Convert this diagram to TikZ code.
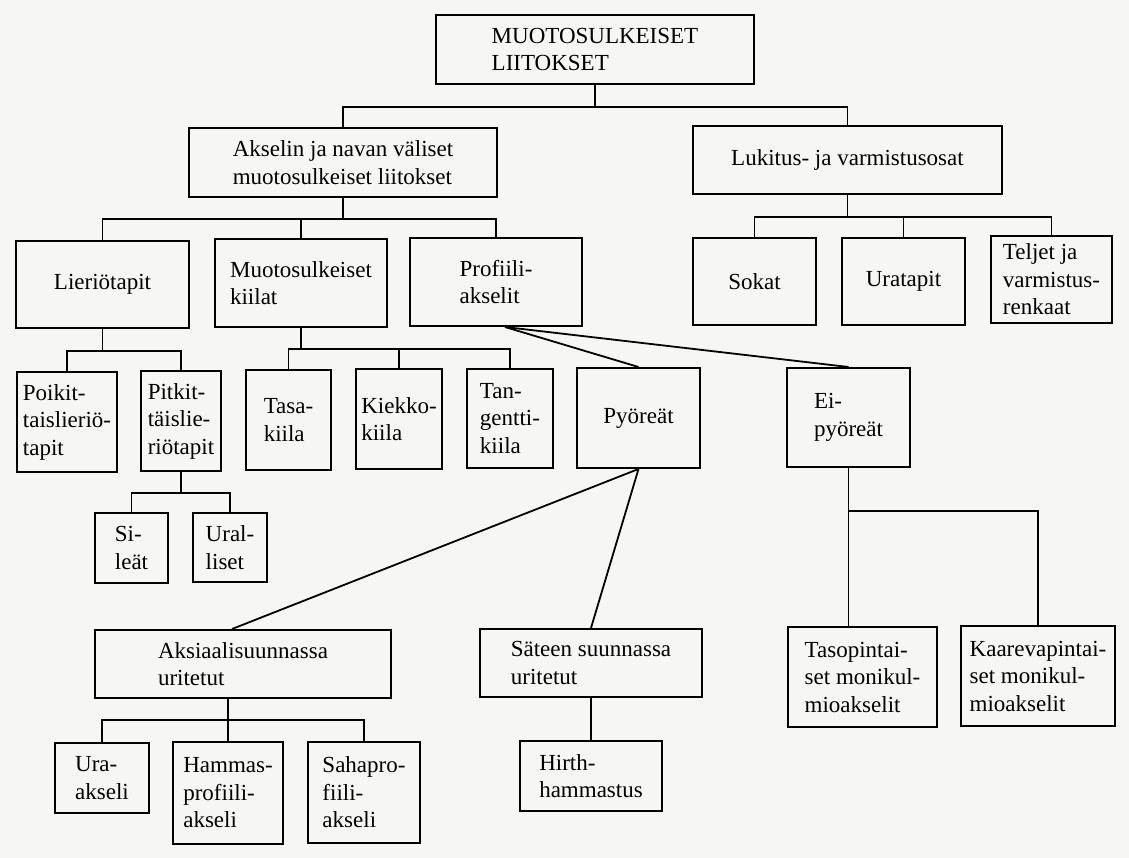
\documentclass[tikz,border=0pt]{standalone}
\usepackage{fontspec}
\setmainfont{Liberation Serif}
\usetikzlibrary{positioning, calc, backgrounds}
\tikzset{
  % Boxes of the tree
  box/.style={
    draw, rectangle, line width=2pt, align=left,
    font=\fontsize{23}{27.5}\selectfont,
    inner sep=0pt
  },
  boxsize/.style 2 args={
    minimum width=#1pt, minimum height=#2pt
  },
  % Tree lines
  link/.style={
    -, line width=1.8pt
  },
  paper/.style={
    fill={rgb,255:red,246;green,246;blue,245}
  },
}

\begin{document}
\begin{tikzpicture}[x=1pt, y=-1pt]

  \fill[paper] (0,0) rectangle (1129,858);
  \useasboundingbox (0,0) rectangle (1129,858);

  %% ── Level 0 / 1 ──
  \node[box, boxsize={318}{69}] (root) at (595,49.5) {MUOTOSULKEISET\\LIITOKSET};
  \node[box, boxsize={308}{69}] (akselin) at (343,162.5) {Akselin ja navan väliset\\muotosulkeiset liitokset};
  \node[box, boxsize={309}{68}] (lukitus) at (847.5,160) {Lukitus- ja varmistusosat};

  %% ── Level 2 ──
  \node[box, boxsize={173}{87}] (lierio)   at (102.5,284.5) {Lieriötapit};
  \node[box, boxsize={172}{88}] (kiilat)   at (301,283)     {Muotosulkeiset\\kiilat};
  \node[box, boxsize={172}{88}] (profiili) at (496,282)     {Profiili-\\akselit};
  \node[box, boxsize={123}{87}] (sokat)    at (754.5,281.5) {Sokat};
  \node[box, boxsize={123}{87}] (uratapit) at (903.5,281.5) {Uratapit};
  \node[box, boxsize={121}{87}] (teljet)   at (1051.5,279.5) {Teljet ja\\varmistus-\\renkaat};

  %% ── Level 3 ──
  \node[box, boxsize={100}{100}] (poikit)    at (67,422)    {Poikit-\\taislieriö-\\tapit};
  \node[box, boxsize={80}{100}]  (pitkit)    at (181,421)   {Pitkit-\\täislie-\\riötapit};
  \node[box, boxsize={85}{100}]  (tasa)      at (288.5,420) {Tasa-\\kiila};
  \node[box, boxsize={86}{100}]  (kiekko)    at (399,419)   {Kiekko-\\kiila};
  \node[box, boxsize={86}{99}]   (tangentti) at (510,418.5) {Tan-\\gentti-\\kiila};
  \node[box, boxsize={123}{100}] (pyoreat)   at (638.5,418) {Pyöreät};
  \node[box, boxsize={123}{99}]  (eipyoreat) at (848.5,417.5) {Ei-\\pyöreät};

  %% ── Level 4 ──
  \node[box, boxsize={73}{70}]   (sileat)   at (131.5,548)  {Si-\\leät};
  \node[box, boxsize={74}{69}]   (urall)    at (230,547.5)  {Ural-\\liset};
  \node[box, boxsize={296}{68}]  (aksiaali) at (243,664)    {Aksiaalisuunnassa\\uritetut};
  \node[box, boxsize={222}{68}]  (sateen)   at (591,663)    {Säteen suunnassa\\uritetut};
  \node[box, boxsize={149}{100}] (taso)     at (862.5,677)  {Tasopintai-\\set monikul-\\mioakselit};
  \node[box, boxsize={154}{100}] (kaare)    at (1038,676)   {Kaarevapintai-\\set monikul-\\mioakselit};

  %% ── Level 5 ──
  \node[box, boxsize={94}{70}]   (ura)     at (102,778)   {Ura-\\akseli};
  \node[box, boxsize={110}{102}] (hammas)  at (228,793)   {Hammas-\\profiili-\\akseli};
  \node[box, boxsize={112}{101}] (sahapro) at (364,792.5) {Sahapro-\\fiili-\\akseli};
  \node[box, boxsize={142}{70}]  (hirth)   at (591,776)   {Hirth-\\hammastus};

  %% ── Tree lines ──
  \draw[link] (root.south) -- ++(0,22) -| (akselin.north);
  \draw[link] (root.south) -- ++(0,22) -| (lukitus.north);

  \draw[link] (akselin.south) -- ++(0,21) -| (lierio.north);
  \draw[link] (akselin.south) -- ++(0,21) -| (kiilat.north);
  \draw[link] (akselin.south) -- ++(0,21) -| (profiili.north);

  \draw[link] (lukitus.south) -- ++(0,22) -| (sokat.north);
  \draw[link] (lukitus.south) -- ++(0,22) -| (uratapit.north);
  \draw[link] (lukitus.south) -- ++(0,22) -| (teljet.north);

  \draw[link] (lierio.south) -- ++(0,22) -| (poikit.north);
  \draw[link] (lierio.south) -- ++(0,22) -| (pitkit.north);

  \draw[link] (kiilat.south) -- ++(0,21) -| (tasa.north);
  \draw[link] (kiilat.south) -- ++(0,21) -| (kiekko.north);
  \draw[link] (kiilat.south) -- ++(0,21) -| (tangentti.north);

  \draw[link] (pitkit.south) -- ++(0,21) -| (sileat.north);
  \draw[link] (pitkit.south) -- ++(0,21) -| (urall.north);

  %% ── Profile shafts (slanted) ──
  \coordinate (pfork) at ($(profiili.south)+(9,0)$);
  \draw[link] (pfork) -- (pyoreat.north);
  \draw[link] (pfork) -- (eipyoreat.north);

  \coordinate (akstop) at ($(aksiaali.north)+(-11,0)$);
  \draw[link] (pyoreat.south) -- (akstop);
  \draw[link] (pyoreat.south) -- (sateen.north);

  \draw[link] (eipyoreat.south) -- (eipyoreat.south |- taso.north);
  \draw[link] (eipyoreat.south) -- ++(0,43) -| (kaare.north);

  \draw[link] (aksiaali.south -| hammas.north) -- (hammas.north);
  \draw[link] (ura.north) -- ++(0,-22) -| (sahapro.north);

  \draw[link] (sateen.south) -- (hirth.north);

\end{tikzpicture}
\end{document}
